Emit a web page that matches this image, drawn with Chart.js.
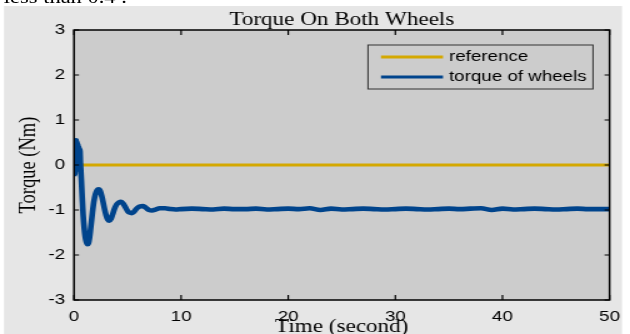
<!DOCTYPE html>
<html>
<head>
<meta charset="utf-8">
<script src="https://cdn.jsdelivr.net/npm/chart.js@4.4.1/dist/chart.umd.min.js"></script>
<style>
  html, body { margin: 0; padding: 0; background: #fff; }
  #wrap { position: relative; width: 630px; height: 334px; overflow: hidden; }
  /* the figure in the paper is stretched sideways, so draw narrow and widen it */
  #fig { position: absolute; left: 0; top: 0; width: 504px; height: 334px; transform: scaleX(1.25); transform-origin: 0 0; }
  #pagetext { position: absolute; left: 3px; top: -12px; font: 18px/18px "Liberation Serif", serif; white-space: nowrap; z-index: 2; }
</style>
</head>
<body>
<div id="wrap">
  <div id="fig">
    <canvas id="torqueChart" width="504" height="334"></canvas>
    <div id="pagetext">less than 0.4 .</div>
  </div>
</div>
<script>
// Torque on both wheels
const timeSec = [0, 0.04, 0.08, 0.12, 0.16, 0.2, 0.24, 0.28, 0.32, 0.36, 0.4, 0.45, 0.5, 0.55, 0.6,
  0.68, 0.76, 0.85, 0.95, 1.05, 1.15, 1.25, 1.35, 1.45, 1.55, 1.7, 1.85, 2.0, 2.15, 2.3, 2.45, 2.6,
  2.8, 3.0, 3.15, 3.3, 3.45, 3.6, 3.8, 4.0, 4.2, 4.4, 4.6, 4.8, 5.0, 5.2, 5.4, 5.6, 5.8, 6.0, 6.2,
  6.4, 6.6, 6.8, 7.0, 7.3, 7.6, 8.0, 8.5, 9.0, 9.5, 10, 11, 12, 13, 14, 15, 16, 17, 18, 19, 20,
  21, 22, 23, 24, 25, 26, 27, 28, 29, 30, 31, 32, 33, 34, 35, 36, 37, 38, 39, 40, 41, 42, 43, 44,
  45, 46, 47, 48, 49, 50];
const torqueNm = [-0.25, 0.35, -0.2, 0.5, 0.05, 0.55, -0.05, 0.5, 0.0, 0.45, -0.1, 0.4, 0.15, 0.35, 0.05,
  -0.3, -0.7, -1.1, -1.4, -1.6, -1.71, -1.76, -1.74, -1.62, -1.42, -1.1, -0.82, -0.65, -0.56, -0.54, -0.58, -0.7,
  -0.92, -1.12, -1.21, -1.24, -1.2, -1.1, -0.96, -0.87, -0.83, -0.82, -0.86, -0.94, -1.02, -1.06, -1.07, -1.04, -0.98, -0.94, -0.92,
  -0.91, -0.93, -0.97, -1.0, -1.01, -0.99, -0.96, -0.96, -0.98, -0.99, -0.98, -0.97, -0.98, -0.99, -0.97, -0.98, -0.98, -0.97, -0.99, -0.98, -0.97,
  -0.98, -0.96, -1.0, -0.97, -0.99, -0.98, -0.97, -0.98, -0.99, -0.98, -0.97, -0.98, -0.99, -0.98, -0.97, -0.98, -0.97, -0.96, -1.0, -0.97, -0.99, -0.98, -0.97, -0.98,
  -0.99, -0.98, -0.97, -0.98, -0.98, -0.98];
const refTime = [0, 50];
const refNm = [0, 0];
const xTickVals = [0, 10, 20, 30, 40, 50];
const yTickVals = [-3, -2, -1, 0, 1, 2, 3];

const plotGray = '#cccccc';
const figGray = '#e6e6e6';

// matlab look: background, boxed axes with inside ticks, titles and legend
const matlabLook = {
    id: 'matlabLook',
    beforeDraw(chart) {
        const ctx = chart.ctx;
        const a = chart.chartArea;
        ctx.save();
        ctx.fillStyle = '#fff';
        ctx.fillRect(0, 0, chart.width, chart.height);
        ctx.fillStyle = figGray;
        ctx.fillRect(3.2, 6, 494.4, chart.height - 6);
        ctx.fillStyle = plotGray;
        ctx.fillRect(a.left, a.top, a.right - a.left, a.bottom - a.top);
        ctx.restore();
    },
    afterDraw(chart) {
        const ctx = chart.ctx;
        const a = chart.chartArea;
        const xs = chart.scales.x;
        const ys = chart.scales.y;
        ctx.save();
        ctx.strokeStyle = '#000';
        ctx.lineWidth = 1.5;
        ctx.strokeRect(a.left, a.top, a.right - a.left, a.bottom - a.top);
        ctx.lineWidth = 1.2;
        ctx.beginPath();
        xTickVals.forEach(v => {
            const px = xs.getPixelForValue(v);
            ctx.moveTo(px, a.bottom); ctx.lineTo(px, a.bottom - 5);
            ctx.moveTo(px, a.top); ctx.lineTo(px, a.top + 5);
        });
        yTickVals.forEach(v => {
            const py = ys.getPixelForValue(v);
            ctx.moveTo(a.left, py); ctx.lineTo(a.left + 4, py);
            ctx.moveTo(a.right, py); ctx.lineTo(a.right - 4, py);
        });
        ctx.stroke();

        // titles
        const cx = (a.left + a.right) / 2;
        ctx.fillStyle = '#000';
        ctx.font = '18.5px "Liberation Serif"';
        ctx.textAlign = 'center';
        ctx.textBaseline = 'alphabetic';
        ctx.fillText('Torque On Both Wheels', cx, 24.5);
        ctx.fillText('Time (second)', cx, 332);
        ctx.save();
        ctx.translate(23.6, (a.top + a.bottom) / 2);
        ctx.rotate(-Math.PI / 2);
        ctx.textBaseline = 'middle';
        ctx.fillText('Torque (Nm)', 0, 0);
        ctx.restore();

        // legend box
        ctx.fillStyle = plotGray;
        ctx.fillRect(294.4, 45, 180, 44);
        ctx.strokeStyle = '#333';
        ctx.lineWidth = 1;
        ctx.strokeRect(294.4, 45, 180, 44);
        ctx.font = '15px "Liberation Sans"';
        ctx.textAlign = 'left';
        ctx.textBaseline = 'middle';
        chart.data.datasets.forEach((ds, i) => {
            const y = 57 + 20 * i;
            ctx.strokeStyle = ds.borderColor;
            ctx.lineWidth = 3.2;
            ctx.beginPath();
            ctx.moveTo(304.8, y);
            ctx.lineTo(354.4, y);
            ctx.stroke();
            ctx.fillStyle = '#000';
            ctx.fillText(ds.label, 359.2, y);
        });
        ctx.restore();
    }
};

new Chart(document.getElementById('torqueChart'), {
    type: 'line',
    data: {
        datasets: [{
            label: 'reference',
            data: refTime.map((t, i) => ({ x: t, y: refNm[i] })),
            borderColor: '#d4a800',
            borderWidth: 3,
            pointRadius: 0,
            order: 2
        }, {
            label: 'torque of wheels',
            data: timeSec.map((t, i) => ({ x: t, y: torqueNm[i] })),
            borderColor: '#00448c',
            borderWidth: 4.6,
            pointRadius: 0,
            cubicInterpolationMode: 'monotone',
            order: 1
        }]
    },
    options: {
        responsive: false,
        animation: false,
        layout: { padding: { top: 30, right: 12.8, bottom: 0, left: 0 } },
        plugins: {
            legend: { display: false },
            tooltip: { enabled: false }
        },
        scales: {
            x: {
                type: 'linear',
                min: 0,
                max: 50,
                afterBuildTicks: scale => { scale.ticks = xTickVals.map(v => ({ value: v })); },
                afterFit: scale => { scale.height = 34; },
                grid: { display: false, drawTicks: false },
                border: { display: false },
                ticks: {
                    color: '#000',
                    padding: 8,
                    maxRotation: 0,
                    font: { family: 'Liberation Sans', size: 15 }
                }
            },
            y: {
                min: -3,
                max: 3,
                afterBuildTicks: scale => { scale.ticks = yTickVals.map(v => ({ value: v })); },
                afterFit: scale => { scale.width = 59.2; },
                grid: { display: false, drawTicks: false },
                border: { display: false },
                ticks: {
                    color: '#000',
                    padding: 7,
                    font: { family: 'Liberation Sans', size: 15 }
                }
            }
        }
    },
    plugins: [matlabLook]
});
</script>
</body>
</html>
